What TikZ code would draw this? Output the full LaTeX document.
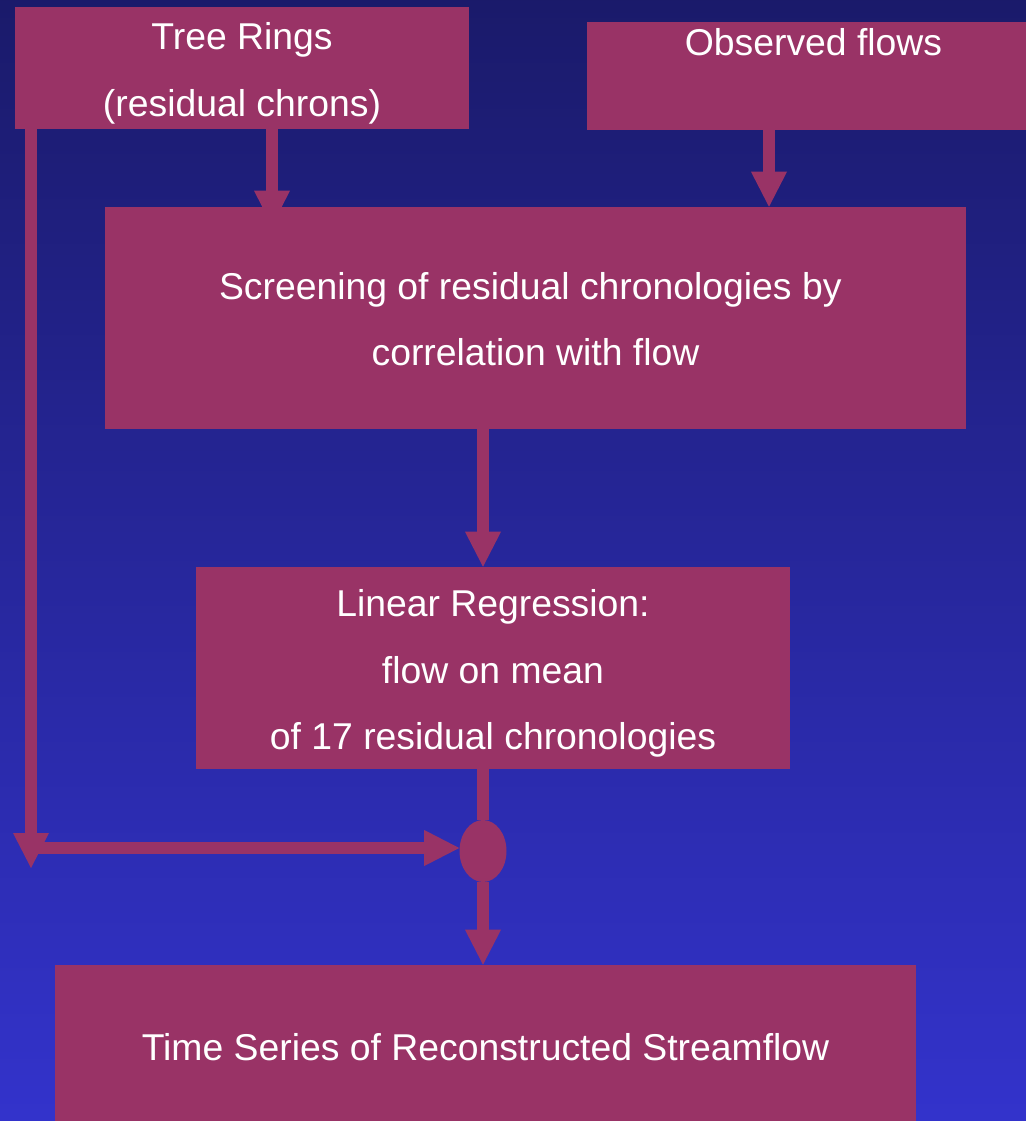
\documentclass[tikz,border=0pt]{standalone}
\usepackage{fontspec}
\setmainfont{Liberation Sans}
\usetikzlibrary{arrows.meta,shapes.geometric}
\definecolor{boxc}{RGB}{153,51,102}
\definecolor{bgtop}{RGB}{26,26,106}
\definecolor{bgbot}{RGB}{51,51,204}
\pgfdeclarelayer{bg}
\pgfdeclarelayer{conn}
\pgfsetlayers{bg,conn,main}
\newcommand\txtlift[1]{\rule{0pt}{#1}}
\begin{document}
\begin{tikzpicture}[x=0.75pt,y=-0.75pt,
  box/.style={rectangle, fill=boxc, draw=none, text=white, align=center, inner sep=0pt,
    font=\fontsize{28}{50}\selectfont},
  conn/.style={draw=boxc, line width=9pt},
  arr/.style={conn, -{Triangle[width=27pt,length=26.25pt,line width=0pt]}},
  joint/.style={ellipse, fill=boxc, draw=none, inner sep=0pt, minimum width=35.25pt, minimum height=46.5pt}]
\useasboundingbox (0,0) rectangle (1025,1121);
\begin{pgfonlayer}{bg}
\fill[top color=bgtop, bottom color=bgbot] (-5,-5) rectangle (1030,1126);
\end{pgfonlayer}
\clip (-5,-5) rectangle (1030,1126);

\node[box, minimum width=340.5pt, minimum height=91.5pt] (tree) at (242,68) {\txtlift{28.5pt}Tree Rings\\(residual chrons)};
\node[box, minimum width=339.75pt, minimum height=79.5pt] (obs) at (813.5,76) {\txtlift{25pt}Observed flows\\\vphantom{(g}};
\node[box, minimum width=645.75pt, minimum height=166.5pt] (screen) at (535.5,318) {\txtlift{22pt}Screening of residual chronologies by\hspace*{7.8pt}\\correlation with flow};
\node[box, minimum width=445.5pt, minimum height=151.5pt] (lin) at (493,668) {\txtlift{28.5pt}Linear Regression:\\flow on mean\\of 17 residual chronologies};
\node[box, minimum width=645.75pt, minimum height=123pt] (ts) at (485.5,1047) {Time Series of Reconstructed Streamflow};
\node[joint] (circ) at (483,851) {};

\coordinate (tx) at (272,0);
\coordinate (ox) at (769,0);
\coordinate (lx) at (31,0);
\coordinate (lefttip) at (31,868);
\coordinate (hstart) at (31,848);

\begin{pgfonlayer}{conn}
\draw[arr] (tree.south -| tx) -- ([yshift=-14.25pt]screen.north -| tx);
\draw[arr] (obs.south -| ox) -- (screen.north -| ox);
\draw[arr] (screen.south -| circ) -- (lin.north -| circ);
\draw[arr] (tree.south -| lx) -- (lefttip);
\draw[arr] (hstart) -- (circ.west |- hstart);
\draw[conn] (lin.south -| circ) -- (circ.north);
\draw[arr] (circ.south) -- (ts.north -| circ);
\end{pgfonlayer}
\end{tikzpicture}
\end{document}
